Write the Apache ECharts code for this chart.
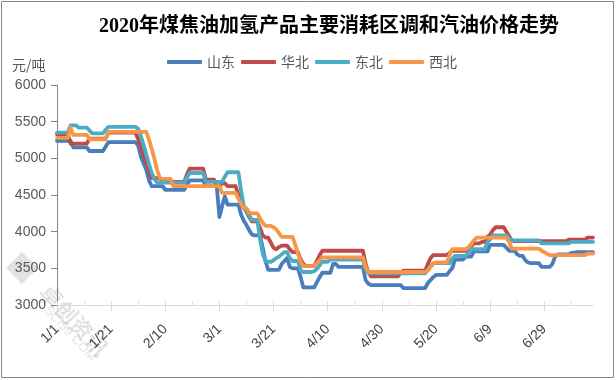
<!DOCTYPE html>
<html>
<head>
<meta charset="utf-8">
<script src="https://cdn.jsdelivr.net/npm/echarts@6/dist/echarts.min.js"></script>
<style>
html,body{margin:0;padding:0;background:#fff;}
#chart{width:616px;height:380px;}
</style>
</head>
<body>
<div id="chart"></div>
<script>
// ---- data ----
const startDate = [2020, 1, 1];
const dayCount = 199; // 1/1 .. 7/17
const categories = [];
(function(){
  const d = new Date(startDate[0], startDate[1]-1, startDate[2]);
  for (let i = 0; i < dayCount; i++) {
    categories.push((d.getMonth()+1) + '/' + d.getDate());
    d.setDate(d.getDate()+1);
  }
})();

const seriesNames = ['山东', '华北', '东北', '西北'];

const shandong = [
5240,5240,5240,5240,5240,5240,5150,5150,5150,5150,5150,5150,5100,5100,5100,5100,5100,5100,5160,5220,
5220,5220,5220,5220,5220,5220,5220,5220,5220,5220,5170,5020,4930,4840,4700,4620,4620,4620,4620,4620,
4570,4570,4570,4570,4570,4570,4570,4570,4640,4700,4700,4700,4700,4700,4700,4620,4620,4620,4620,4620,
4200,4350,4480,4370,4370,4370,4370,4370,4230,4150,4090,4020,3960,3950,3950,3950,3780,3600,3480,3480,
3480,3480,3480,3560,3600,3640,3520,3500,3500,3500,3380,3240,3240,3240,3240,3240,3310,3380,3440,3440,
3440,3440,3560,3560,3520,3520,3520,3520,3520,3520,3520,3520,3520,3520,3340,3290,3270,3270,3270,3270,
3270,3270,3270,3270,3270,3270,3270,3270,3230,3230,3230,3230,3230,3230,3230,3230,3230,3300,3340,3380,
3410,3410,3410,3410,3410,3460,3500,3620,3620,3620,3620,3660,3660,3660,3730,3730,3730,3730,3730,3730,
3820,3820,3820,3820,3820,3820,3780,3740,3740,3740,3690,3670,3670,3610,3580,3570,3570,3570,3570,3520,
3520,3520,3520,3560,3660,3690,3690,3690,3690,3690,3710,3710,3720,3720,3720,3720,3720,3720,3720
];

const huabei = [
5330,5330,5330,5330,5330,5200,5200,5200,5200,5200,5200,5200,5270,5270,5270,5270,5270,5270,5270,5350,
5350,5350,5350,5350,5350,5350,5350,5350,5350,5350,5260,5150,5050,4930,4830,4730,4730,4730,4730,4680,
4680,4680,4680,4680,4680,4680,4680,4680,4780,4860,4860,4860,4860,4860,4860,4710,4710,4710,4710,4620,
4620,4660,4660,4620,4620,4620,4620,4500,4400,4330,4270,4200,4140,4140,4140,4050,3950,3920,3920,3850,
3780,3760,3790,3810,3810,3810,3760,3720,3720,3720,3620,3560,3530,3530,3530,3530,3600,3680,3740,3740,
3740,3740,3740,3740,3740,3740,3740,3740,3740,3740,3740,3740,3740,3740,3560,3450,3390,3390,3390,3390,
3390,3390,3390,3390,3390,3390,3390,3440,3470,3470,3470,3470,3470,3470,3470,3470,3470,3560,3640,3680,
3680,3680,3680,3680,3680,3710,3740,3740,3740,3740,3740,3740,3740,3800,3840,3840,3840,3860,3860,3930,
3960,4020,4060,4060,4060,4060,4000,3940,3880,3870,3870,3870,3870,3870,3870,3870,3870,3870,3870,3870,
3870,3870,3870,3870,3870,3870,3870,3870,3870,3890,3890,3890,3890,3890,3890,3890,3920,3920,3920
];

const dongbei = [
5350,5350,5350,5350,5350,5450,5450,5450,5420,5420,5420,5420,5380,5340,5340,5340,5340,5340,5390,5430,
5430,5430,5430,5430,5430,5430,5430,5430,5430,5430,5400,5300,5180,5050,4920,4800,4720,4670,4670,4670,
4670,4670,4670,4670,4670,4670,4670,4670,4740,4800,4800,4800,4800,4800,4800,4680,4680,4680,4680,4680,
4680,4680,4750,4810,4810,4810,4810,4810,4560,4350,4280,4220,4160,4160,4160,3900,3700,3600,3590,3590,
3610,3640,3660,3690,3720,3720,3640,3600,3600,3600,3470,3450,3450,3450,3450,3460,3490,3540,3590,3590,
3590,3620,3620,3620,3620,3620,3620,3620,3620,3620,3620,3620,3620,3620,3480,3440,3430,3430,3430,3430,
3430,3430,3430,3430,3430,3430,3430,3430,3430,3430,3430,3430,3430,3430,3430,3430,3430,3480,3530,3570,
3570,3570,3570,3570,3570,3570,3630,3670,3670,3670,3670,3670,3710,3760,3760,3760,3760,3760,3760,3850,
3900,3950,3950,3950,3950,3950,3950,3910,3880,3880,3880,3880,3880,3880,3880,3880,3880,3880,3880,3840,
3840,3840,3840,3840,3840,3840,3840,3840,3840,3840,3860,3860,3860,3860,3860,3860,3860,3860,3860
];

const xibei = [
5280,5280,5280,5280,5280,5420,5320,5320,5320,5320,5320,5320,5260,5260,5260,5260,5260,5260,5260,5360,
5360,5360,5360,5360,5360,5360,5360,5360,5360,5360,5360,5360,5360,5360,5250,5130,4990,4840,4730,4720,
4720,4720,4720,4620,4620,4620,4620,4620,4620,4620,4620,4620,4620,4620,4620,4620,4620,4620,4620,4620,
4620,4530,4530,4530,4530,4530,4530,4450,4380,4320,4320,4260,4250,4250,4250,4180,4120,4080,4080,4080,
4060,4030,3980,3930,3930,3930,3930,3930,3820,3700,3590,3530,3530,3530,3530,3530,3570,3610,3650,3650,
3650,3650,3650,3650,3650,3650,3650,3650,3650,3650,3650,3650,3650,3650,3520,3450,3450,3450,3450,3450,
3450,3450,3450,3450,3450,3450,3450,3450,3450,3450,3450,3450,3450,3450,3450,3450,3450,3470,3520,3560,
3580,3580,3580,3580,3580,3680,3760,3760,3760,3760,3760,3760,3790,3830,3880,3920,3920,3920,3920,3920,
3920,3920,3920,3920,3920,3920,3920,3860,3770,3770,3770,3770,3770,3770,3770,3770,3770,3770,3770,3740,
3720,3700,3680,3680,3680,3680,3680,3680,3680,3680,3680,3680,3680,3680,3680,3680,3700,3700,3700
];

const yTicks = { min: 3000, max: 6000, interval: 500 };
const colors = ['#4a7ebb', '#be4b48', '#4bacc6', '#f79646'];

// ---- chart ----
const chart = echarts.init(document.getElementById('chart'), null, { renderer: 'canvas' });
const seriesData = [shandong, huabei, dongbei, xibei];
const fontCJK = '"Noto Sans CJK SC", sans-serif';
const wmColor = 'rgba(150,150,150,0.28)';
const option = {
  animation: false,
  backgroundColor: '#fff',
  color: colors,
  title: {
    text: '2020年煤焦油加氢产品主要消耗区调和汽油价格走势',
    left: 99, top: 17, padding: 0,
    textStyle: { fontFamily: '"Liberation Serif", "Noto Sans CJK SC", serif', fontWeight: 'bold', fontSize: 20, color: '#000' }
  },
  legend: {
    data: seriesNames,
    left: 167, top: 55, padding: 0,
    icon: 'roundRect',
    itemWidth: 35, itemHeight: 4,
    itemGap: 6,
    textStyle: { fontFamily: fontCJK, fontSize: 14, color: '#595959' }
  },
  grid: { left: 57, right: 23, top: 85, bottom: 75, containLabel: false },
  xAxis: [
    {
      type: 'category', data: categories, boundaryGap: false,
      axisLine: { lineStyle: { color: '#d9d9d9', width: 1 } },
      axisTick: { show: true, inside: true, length: 4, interval: 9, lineStyle: { color: '#d9d9d9' } },
      axisLabel: { interval: 19, rotate: 45, margin: 22, fontSize: 14, color: '#404040', fontFamily: '"Liberation Sans", sans-serif' },
      splitLine: { show: false }
    },
    {
      type: 'category', data: categories, boundaryGap: false, position: 'bottom', offset: 0,
      axisLine: { show: false },
      axisTick: { show: true, inside: false, length: 6, interval: 19, lineStyle: { color: '#d9d9d9' } },
      axisLabel: { show: false },
      splitLine: { show: false }
    }
  ],
  yAxis: {
    type: 'value', min: yTicks.min, max: yTicks.max, interval: yTicks.interval,
    axisLine: { show: true, lineStyle: { color: '#868686' } },
    axisTick: { show: true, length: 6, lineStyle: { color: '#868686' } },
    axisLabel: { margin: 11, fontSize: 14, color: '#595959', fontFamily: '"Liberation Sans", sans-serif', formatter: v => String(v) },
    splitLine: { show: false }
  },
  graphic: [
    { type: 'rect', shape: { x: 1.5, y: 1.5, width: 612, height: 376 }, style: { fill: 'none', stroke: '#868686', lineWidth: 1 }, silent: true, z: -1 },
    { type: 'text', left: 12, top: 58, style: { text: '元/吨', font: '14px "Noto Sans CJK SC"', fill: '#595959' } },
    { type: 'polygon', shape: { points: [[22, 252], [38, 268], [22, 284], [6, 268]] }, style: { fill: 'rgba(160,160,160,0.3)' }, silent: true, z: -1 },
    { type: 'text', x: 44, y: 288, rotation: -0.82, style: { text: '卓创资讯', font: 'bold 22px "Noto Sans CJK SC"', fill: wmColor, textVerticalAlign: 'middle' }, silent: true, z: -1 },
    { type: 'text', x: 46, y: 308, rotation: -0.82, style: { text: 'SCI99.COM', font: '13px "Liberation Sans"', fill: wmColor, textVerticalAlign: 'middle' }, silent: true, z: -1 }
  ],
  series: seriesNames.map((n, k) => ({
    name: n, type: 'line', data: seriesData[k], xAxisIndex: 0,
    showSymbol: false, symbol: 'none',
    lineStyle: { width: 3.8, color: colors[k], join: 'round', cap: 'round' },
    itemStyle: { color: colors[k] }
  }))
};
chart.setOption(option);
</script>
</body>
</html>
